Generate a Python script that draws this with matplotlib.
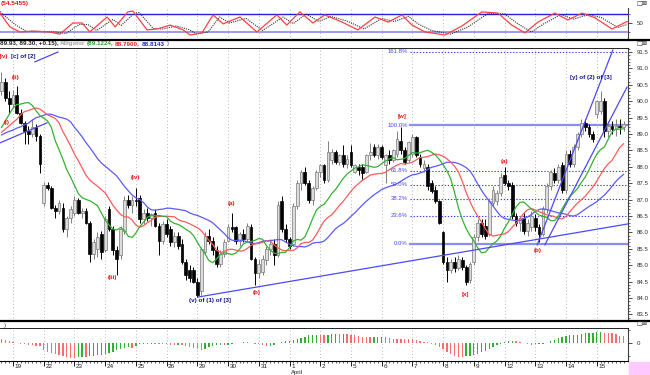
import numpy as np
import pandas as pd
import matplotlib
matplotlib.use("Agg")
import matplotlib.pyplot as plt
from matplotlib import font_manager
from matplotlib.lines import Line2D
from matplotlib.patches import Rectangle

W, H = 650, 375

# ---- data: 8 bars a day, bars 0-2 are the tail of 18 Mar ----
day_labels = ['19', '22', '23', '24', '25', '26', '29', '30', '31', '1', '2',
              '5', '6', '7', '8', '9', '12', '13', '14', '15']
first_day_bar = 3
bars_per_day = 8

opens = [90.3, 90.6, 90.1,
         89.9, 90.2, 89.65, 89.35, 89.1, 89.0, 89.2, 88.95,
         86.9, 87.45, 87.35, 86.75, 86.65, 86.75, 86.1, 86.45,
         86.6, 87.0, 86.6, 86.65, 86.3, 85.35, 85.5, 85.95,
         85.45, 86.7, 86.1, 85.45, 85.3, 86.05, 87.0, 86.85,
         87.0, 87.05, 86.4, 86.6, 86.45, 86.6, 86.2, 85.75,
         86.25, 86.1, 85.7, 85.9, 85.65, 85.1, 84.85, 84.85,
         84.5, 84.2, 85.4, 85.9, 85.75, 85.45, 85.05, 85.35,
         85.75, 86.15, 86.15, 85.75, 85.95, 85.8, 86.15, 85.2,
         84.75, 84.8, 85.15, 85.5, 85.65, 85.3, 86.95, 86.1,
         85.8, 85.65, 86.8, 87.5, 87.85, 87.5, 87.0, 87.35,
         87.85, 88.05, 87.6, 88.2, 88.45, 88.15, 88.35, 88.1,
         88.45, 87.85, 88.0, 88.0, 87.85, 88.35, 88.6, 88.35,
         88.6, 88.05, 88.35, 88.2, 88.4, 88.8, 88.5, 88.2,
         88.4, 88.9, 88.3, 87.95, 88.0, 87.5, 87.3, 86.95,
         86.0, 85.1, 84.85, 85.1, 84.9, 85.15, 84.95, 84.55,
         85.1, 85.85, 86.3, 86.2, 85.95, 86.9, 86.95, 87.2,
         87.75, 87.5, 87.45, 86.5, 86.3, 86.45, 86.05, 86.15,
         86.45, 86.15, 85.95, 86.7, 87.4, 87.8, 87.6, 88.05,
         87.3, 88.4, 88.1, 88.6, 89.0, 89.35, 89.2, 89.0,
         89.6, 89.7, 90.0, 89.1, 89.25, 89.15, 89.25, 89.2]
highs = [90.9, 90.7, 90.3,
         90.35, 90.45, 89.75, 89.4, 89.25, 89.45, 89.3, 89.0,
         87.55, 87.55, 87.4, 86.85, 87.0, 86.9, 86.5, 86.8,
         87.1, 87.05, 86.75, 86.75, 86.35, 85.8, 86.0, 86.05,
         86.5, 86.8, 86.2, 85.6, 86.2, 87.1, 87.15, 87.1,
         87.35, 87.15, 86.7, 86.75, 86.6, 86.7, 86.3, 86.35,
         86.4, 86.2, 86.0, 86.0, 85.8, 85.2, 85.0, 84.95,
         84.6, 85.55, 86.0, 86.1, 85.85, 85.6, 85.45, 85.8,
         86.25, 86.6, 86.2, 86.0, 86.1, 86.3, 86.25, 85.25,
         85.2, 85.3, 85.6, 85.8, 85.8, 86.95, 87.1, 86.25,
         85.85, 86.9, 87.6, 87.9, 88.0, 87.6, 87.4, 87.9,
         88.1, 88.1, 88.8, 88.55, 88.5, 88.4, 88.65, 88.35,
         88.65, 88.1, 88.1, 88.1, 88.4, 88.72, 88.7, 88.7,
         88.65, 88.4, 88.5, 88.55, 89.1, 89.2, 88.6, 88.8,
         89.0, 88.95, 88.4, 88.2, 88.1, 87.6, 87.4, 87.0,
         86.05, 85.25, 85.2, 85.25, 85.3, 85.25, 85.0, 85.1,
         85.95, 86.4, 86.4, 86.4, 87.05, 87.4, 87.3, 87.8,
         88.0, 87.6, 87.55, 86.6, 86.5, 86.6, 86.4, 86.65,
         86.55, 86.25, 86.8, 87.5, 87.9, 87.95, 88.1, 88.15,
         88.5, 88.5, 88.7, 89.05, 89.45, 89.45, 89.3, 89.1,
         90.05, 90.3, 90.1, 89.4, 89.4, 89.45, 89.45, 89.4]
lows = [90.2, 90.0, 89.6,
        89.8, 89.6, 89.3, 88.7, 88.7, 88.9, 88.8, 87.8,
        86.8, 87.3, 86.7, 86.45, 86.55, 86.0, 85.85, 86.3,
        86.5, 86.55, 86.45, 86.25, 85.1, 85.2, 85.25, 85.2,
        85.4, 86.05, 85.3, 84.7, 85.2, 85.95, 86.75, 86.6,
        86.8, 86.3, 86.25, 86.35, 86.2, 86.15, 85.3, 85.65,
        85.85, 85.6, 85.55, 85.5, 85.05, 84.55, 84.5, 84.45,
        84.03, 84.1, 85.3, 85.65, 85.3, 84.95, 84.95, 85.25,
        85.7, 86.0, 85.65, 85.6, 85.7, 85.75, 85.15, 84.4,
        84.6, 84.7, 85.0, 85.3, 85.0, 85.25, 86.0, 85.7,
        85.5, 85.6, 86.7, 87.3, 87.45, 86.9, 86.85, 87.3,
        87.7, 87.5, 87.55, 88.1, 88.1, 88.05, 88.0, 87.95,
        88.0, 87.8, 87.75, 87.6, 87.8, 88.2, 88.3, 88.25,
        88.25, 87.5, 88.1, 88.15, 88.3, 88.4, 88.1, 88.15,
        88.3, 88.3, 88.0, 87.85, 87.3, 87.2, 86.9, 86.25,
        85.05, 84.5, 84.75, 84.8, 84.85, 84.85, 84.4, 84.45,
        85.0, 85.75, 85.85, 85.8, 85.9, 86.8, 86.85, 87.1,
        87.45, 87.3, 86.4, 86.2, 86.05, 85.95, 85.9, 86.05,
        86.05, 85.7, 85.9, 86.6, 87.3, 87.5, 87.5, 87.2,
        87.2, 88.0, 88.0, 88.5, 88.9, 89.1, 88.9, 88.75,
        89.5, 89.6, 88.9, 88.9, 89.0, 88.95, 89.0, 89.1]
closes = [90.6, 90.1, 89.9,
          90.2, 89.65, 89.35, 89.1, 89.0, 89.2, 88.95, 88.1,
          87.45, 87.35, 86.75, 86.65, 86.9, 86.1, 86.45, 86.7,
          87.0, 86.6, 86.65, 86.3, 85.35, 85.7, 85.85, 85.4,
          86.4, 86.1, 85.45, 85.2, 86.1, 87.0, 86.85, 87.0,
          86.95, 86.4, 86.6, 86.45, 86.55, 86.2, 85.75, 86.25,
          85.95, 85.7, 85.9, 85.6, 85.1, 84.7, 84.6, 84.5,
          84.1, 85.5, 85.9, 85.75, 85.45, 85.05, 85.35, 85.7,
          86.15, 86.1, 85.75, 85.95, 85.8, 86.2, 85.2, 84.75,
          85.05, 85.2, 85.5, 85.65, 85.3, 86.85, 86.1, 85.8,
          85.6, 86.8, 87.5, 87.85, 87.5, 87.0, 87.35, 87.85,
          88.05, 87.6, 88.45, 88.45, 88.15, 88.35, 88.1, 88.25,
          88.05, 88.05, 87.9, 87.8, 88.35, 88.45, 88.35, 88.6,
          88.3, 88.35, 88.2, 88.5, 88.85, 88.5, 88.15, 88.75,
          88.9, 88.35, 88.1, 88.1, 87.4, 87.25, 86.95, 86.3,
          85.1, 84.85, 85.1, 84.9, 85.2, 84.95, 84.5, 85.05,
          85.85, 86.3, 85.95, 85.9, 86.95, 87.3, 87.2, 87.7,
          87.5, 87.4, 86.5, 86.3, 86.45, 86.05, 86.3, 86.5,
          86.15, 85.95, 86.7, 87.4, 87.85, 87.6, 88.0, 87.3,
          88.4, 88.1, 88.6, 89.0, 89.35, 89.2, 89.0, 88.85,
          90.0, 90.0, 89.1, 89.25, 89.15, 89.25, 89.2, 89.3]

# alligator values visible before the shifted averages start (read at the left edge)
lips_head = [89.2, 89.4, 89.6]
teeth_head = [89.05, 89.15, 89.25, 89.35, 89.45]
jaw_head = [88.97, 89.03, 89.08, 89.12, 89.18, 89.22, 89.28, 89.33]

# oscillator histogram read for the first 34 bars (before a full 34-bar window exists)
ao_head = [0.75, 0.55, 0.4, 0.2, 0.0, -0.1, -0.2, -0.3, -0.4, -0.5, -0.6,
           -1.3, -1.7, -1.9, -2.1, -2.3, -2.5, -2.65, -2.85, -2.85, -2.75,
           -2.65, -2.65, -2.5, -2.45, -2.35, -2.3, -2.1, -1.9, -1.7, -1.35,
           -1.15, -0.95, -0.75]

# top oscillator: (bar, value) turning points
osc_main_bar = [-0.4, 2.2, 4.8, 8.2, 12.6, 15.2, 18.6, 21.0, 23.0, 27.5, 29.6,
                32.9, 34.2, 37.9, 40.5, 43.9, 47.3, 49.1, 52.2, 55.1, 57.7,
                62.1, 66.5, 71.7, 74.3, 77.7, 81.1, 84.2, 88.7, 92.8, 97.3,
                100.7, 104.3, 106.9, 110.3, 115.5, 119.9, 125.1, 129.3, 132.9,
                136.3, 139.7, 144.1, 147.5, 151.2, 154.6, 159.0, 162.9]
osc_main = [83, 37, 20, 23, 20, 13, 50, 50, 20, 70, 37,
            87, 90, 27, 30, 43, 27, 10, 17, 77, 47,
            70, 20, 77, 43, 87, 50, 77, 53, 27, 70,
            53, 77, 43, 20, 10, 40, 87, 83, 43,
            17, 53, 83, 60, 83, 67, 30, 55]
osc_signal_bar = [-0.4, 3.5, 6.5, 9.5, 14.0, 16.8, 20.2, 22.5, 24.8, 29.0, 31.2,
                  34.5, 35.8, 39.5, 42.0, 45.5, 48.8, 50.8, 53.8, 56.8, 59.3,
                  63.7, 68.0, 73.3, 76.0, 79.3, 82.7, 85.8, 90.3, 94.4, 99.0,
                  102.3, 106.0, 108.5, 112.0, 117.0, 121.5, 126.7, 131.0, 134.5,
                  138.0, 141.3, 145.7, 149.0, 152.8, 156.2, 160.5, 162.9]
osc_signal = [88, 45, 22, 22, 20, 15, 45, 45, 25, 62, 42,
              82, 85, 32, 30, 40, 28, 13, 20, 70, 50,
              65, 25, 70, 48, 80, 55, 72, 55, 30, 65,
              55, 72, 47, 25, 13, 37, 82, 80, 47,
              20, 48, 78, 63, 78, 68, 35, 45]

# fibonacci retracement between [x] low and [w] high
fib_low, fib_high = 85.65, 89.27
fib_levels = [161.8, 100.0, 61.8, 50.0, 38.2, 23.6, 0.0]
fib_start = 106.4

# trend lines: (bar, price) pairs
trend_lines = [((-0.4, 88.73), (11.85, 89.34)),
               ((8.7, 91.2), (14.7, 91.5)),
               ((51.2, 84.03), (163.2, 86.26)),
               ((139.5, 85.62), (159.2, 91.56)),
               ((141.5, 85.62), (162.9, 90.43))]

red, navy = '#f01010', '#101090'
wave_labels = [(3.8, 90.71, '(ii)', red), (1.4, 89.34, '(i)', red),
               (29.0, 84.61, '(iii)', red), (34.8, 87.66, '(iv)', red),
               (54.3, 83.91, '(v) of (1) of [3]', navy),
               (60.0, 86.87, '(a)', red), (66.5, 84.18, '(b)', red),
               (104.3, 89.52, '[w]', red), (120.7, 84.12, '[x]', red),
               (130.9, 88.15, '(a)', red), (139.7, 85.46, '(b)', red),
               (153.5, 90.71, '[y] of (2) of [3]', navy)]

header_parts = [('89.93, 89.30, +0.15),', '#202020'), ('Alligator', '#a0a0a0'),
                ('(89.1224,', '#20a020'), ('88.7900,', '#e02020'),
                ('88.8143', '#2020e0'), (')', '#808080')]

# ---- derived series ----
n = len(closes)
x = np.arange(n)
o, h, l, c = map(np.array, (opens, highs, lows, closes))
med = (h + l) / 2


def smma_line(head, period):
    s = head[-1]
    vals = []
    for v in med:
        s = (s * (period - 1) + v) / period
        vals.append(s)
    return np.concatenate([head, vals])[:n]


lips = smma_line(lips_head, 5)
teeth = smma_line(teeth_head, 8)
jaw = smma_line(jaw_head, 13)

ms = pd.Series(med)
ao_calc = (ms.rolling(5).mean() - ms.rolling(34).mean()).values
ao = np.concatenate([ao_head, ao_calc[len(ao_head):]])

# ---- figure ----
names = {f.name for f in font_manager.fontManager.ttflist}
small_font = 'Liberation Sans Narrow' if 'Liberation Sans Narrow' in names else 'Liberation Sans'
plt.rcParams['font.family'] = [small_font, 'DejaVu Sans']
fig = plt.figure(figsize=(6.5, 3.75), dpi=100)
fig.patch.set_facecolor('white')

xmin, xmax = -0.39, 163.15
day_bars = [first_day_bar + i * bars_per_day for i in range(len(day_labels))]


def fx(px):
    return px / W


def fy(py):
    return 1 - py / H


def add_ax(top, bottom):
    ax = fig.add_axes([0, fy(bottom), fx(628), (bottom - top) / H])
    ax.set_xlim(xmin, xmax)
    for s in ['top', 'left', 'bottom']:
        ax.spines[s].set_visible(False)
    ax.spines['right'].set_color('#404040')
    ax.spines['right'].set_linewidth(0.8)
    ax.yaxis.tick_right()
    ax.set_xticks([])
    ax.tick_params(axis='y', which='both', direction='out', labelsize=4.4,
                   colors='#303030', pad=3)
    ax.tick_params(axis='y', which='major', length=3, width=0.6)
    ax.tick_params(axis='y', which='minor', length=1.5, width=0.5)
    for b in day_bars:
        ax.axvline(b, color='#a0a0a0', lw=0.6, ls=(0, (1, 3)), zorder=0)
    return ax


# oscillator panel
ax_osc = add_ax(8, 40)
ax_osc.set_ylim(-6.67, 100)
ax_osc.axhline(80, color='#2020e0', lw=1.0)
ax_osc.axhline(20, color='#9a9af0', lw=1.4)
ax_osc.plot(osc_signal_bar, osc_signal, color='#303030', lw=0.8, ls=(0, (1, 1)))
ax_osc.plot(osc_main_bar, osc_main, color='#ff4040', lw=0.9)
ax_osc.set_yticks([50])
ax_osc.set_yticks([20, 80], minor=True)

# main price panel
ax = add_ax(48, 321)
ax.set_ylim(83.299, 91.622)
ax.set_yticks(np.arange(83.5, 91.6, 0.5))
ax.set_yticks(np.arange(83.3, 91.65, 0.1), minor=True)
ax.yaxis.set_major_formatter(matplotlib.ticker.FormatStrFormatter('%.1f'))

up = c >= o
wick_col = np.where(up, '#808080', '#000000')
ax.vlines(x, l, h, colors=wick_col, lw=0.7, zorder=3)
ax.bar(x[up], (c - o)[up], bottom=o[up], width=0.72, color='#dcdcdc',
       edgecolor='#7a7a7a', linewidth=0.5, zorder=4)
ax.bar(x[~up], (o - c)[~up], bottom=c[~up], width=0.72, color='#000000',
       edgecolor='#000000', linewidth=0.5, zorder=4)

ax.plot(x, jaw, color='#5a5aff', lw=0.9, zorder=5)
ax.plot(x, teeth, color='#ff5a5a', lw=0.9, zorder=5)
ax.plot(x, lips, color='#35b035', lw=0.9, zorder=5)

for lev in fib_levels:
    p = fib_low + (fib_high - fib_low) * lev / 100
    if lev in (0.0, 100.0):
        ax.plot([fib_start, xmax], [p, p], color='#8c8cf5', lw=1.6, zorder=2)
    else:
        ax.plot([fib_start, xmax], [p, p], color='#3c3cf0', lw=0.8,
                ls=(0, (1.2, 1.6)), zorder=2)
    ax.text(fib_start - 0.6, p, '%.1f%%' % lev, color='#4848f0', fontsize=4.3,
            ha='right', va='center', zorder=6)

for (x0, p0), (x1, p1) in trend_lines:
    ax.plot([x0, x1], [p0, p1], color='#4a4af5', lw=0.9, zorder=5)

for bx, py, txt, col in wave_labels:
    ax.text(bx, py, txt, color=col, fontsize=4.5, fontweight='bold',
            ha='center', va='center', zorder=7)
ax.text(-0.6, 91.35, '(iv)', color=red, fontsize=4.5, fontweight='bold',
        ha='left', va='center', zorder=7)
ax.text(2.6, 91.35, '[c] of [2]', color=navy, fontsize=4.5, fontweight='bold',
        ha='left', va='center', zorder=7)

# awesome oscillator panel
ax_ao = add_ax(328, 361)
ax_ao.set_ylim(-3.42, 2.85)
ao_col = ['#30b030' if i > 0 and ao[i] > ao[i - 1] else '#ff6a6a' for i in range(n)]
ax_ao.bar(x, ao, width=0.35, color=ao_col, zorder=3)
ax_ao.set_yticks([0])
ax_ao.set_yticks([-2.5, 2.5], minor=True)
ax_ao.yaxis.set_major_formatter(matplotlib.ticker.FormatStrFormatter('%d'))

# date axis under the bottom panel
dax = fig.add_axes([0, fy(375), fx(628), 14 / H])
dax.set_xlim(xmin, xmax)
dax.set_ylim(14, 0)
dax.axis('off')
dax.vlines(x, 0, 1.8, color='#202020', lw=0.5)
dax.vlines(day_bars, 0, 5, color='#202020', lw=0.7)
for b, lab in zip(day_bars, day_labels):
    dax.text(b + 0.4, 5.2, lab, fontsize=4.6, color='#202020', ha='left', va='center')
dax.text(day_bars[9] + 0.3, 11.3, 'April', fontsize=4.3, color='#202020',
         ha='left', va='center')

# panel separators and headings
for py, lw, x1 in [(40, 1.6, 650), (48, 0.6, 628), (321, 1.6, 650),
                   (328, 0.6, 628), (361, 0.8, 628)]:
    fig.add_artist(Line2D([0, fx(x1)], [fy(py), fy(py)], color='black', lw=lw))

fig.text(fx(1), fy(3.5), '(54.5455)', color=red, fontsize=4.6,
         fontweight='bold', va='center')

renderer = fig.canvas.get_renderer()
hx = 0.0
for txt, col in header_parts:
    t = fig.text(fx(hx), fy(44), txt, color=col, fontsize=4.5,
                 fontweight='bold', va='center')
    hx += t.get_window_extent(renderer=renderer).width + 1.5

fig.text(fx(4), fy(325), ')', color='#404040', fontsize=4.3, va='center')

for py in (3.5, 43.5, 323.5):
    fig.text(fx(636), fy(py), '\u25a1\u22a0', fontsize=4.5, color='#303030',
             va='center', family='DejaVu Sans')

fig.add_artist(Rectangle((fx(629), 0), fx(21), 13 / H, color='#ffc8ff',
                         transform=fig.transFigure))

fig.savefig('out.png', dpi=100)
